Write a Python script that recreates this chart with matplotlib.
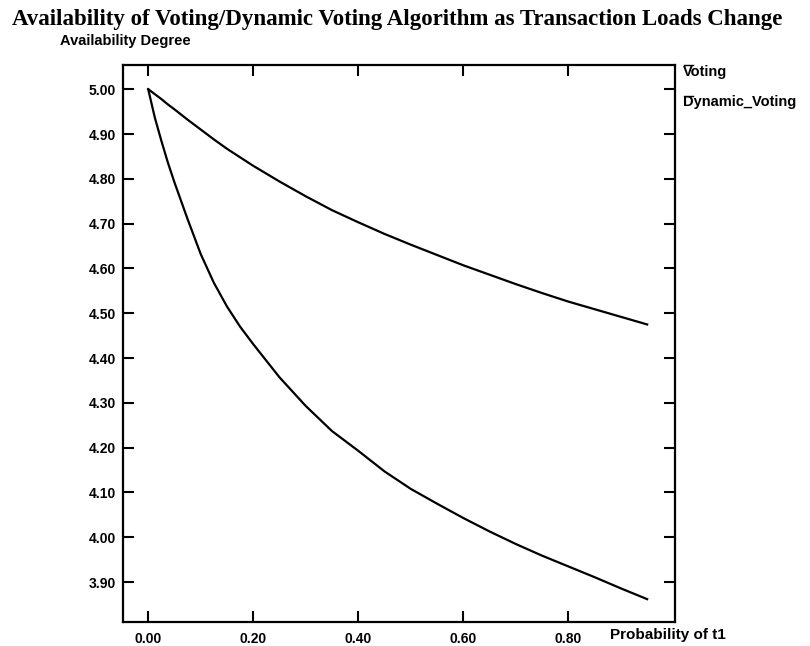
import matplotlib
matplotlib.use("Agg")
import matplotlib.pyplot as plt
from matplotlib.lines import Line2D

# ---- data ----
prob_t1 = [0.00, 0.0125, 0.025, 0.0375, 0.05, 0.075, 0.10, 0.125, 0.15, 0.175, 0.20,
           0.25, 0.30, 0.35, 0.40, 0.45, 0.50, 0.55, 0.60, 0.65, 0.70, 0.75,
           0.80, 0.85, 0.90, 0.95]
voting = [5.000, 4.989, 4.978, 4.966, 4.955, 4.932, 4.910, 4.888, 4.867, 4.848, 4.829,
          4.794, 4.761, 4.730, 4.703, 4.677, 4.653, 4.630, 4.607, 4.586, 4.565, 4.545,
          4.526, 4.509, 4.492, 4.475]
dynamic_voting = [5.000, 4.937, 4.885, 4.836, 4.792, 4.710, 4.632, 4.568, 4.515, 4.470, 4.431,
                  4.357, 4.293, 4.237, 4.193, 4.147, 4.108, 4.075, 4.043, 4.013, 3.985, 3.959,
                  3.935, 3.911, 3.886, 3.862]
x_ticks = [0.0, 0.2, 0.4, 0.6, 0.8]
y_ticks = [3.9, 4.0, 4.1, 4.2, 4.3, 4.4, 4.5, 4.6, 4.7, 4.8, 4.9, 5.0]

title = "Availability of Voting/Dynamic Voting Algorithm as Transaction Loads Change"
ylabel = "Availability Degree"
xlabel = "Probability of t1"
series_names = ["Voting", "Dynamic_Voting"]

W, H = 810, 646
fig = plt.figure(figsize=(W / 100, H / 100), dpi=100)
fig.patch.set_facecolor("white")

# axes box in pixels: left 123, right 675, top 65, bottom 622
L, R, T, B = 123, 675, 65, 622
ax = fig.add_axes([L / W, 1 - B / H, (R - L) / W, (B - T) / H])

ax.plot(prob_t1, voting, color="black", lw=1.6)
ax.plot(prob_t1, dynamic_voting, color="black", lw=1.6)

ax.set_xlim(-0.048, 1.003)
ax.set_ylim(3.811, 5.054)
ax.set_xticks(x_ticks)
ax.set_yticks(y_ticks)
ax.set_xticklabels([f"{v:.2f}" for v in x_ticks])
ax.set_yticklabels([f"{v:.2f}" for v in y_ticks])

sans = ["Liberation Sans", "DejaVu Sans"]
for lab in ax.get_xticklabels() + ax.get_yticklabels():
    lab.set_fontfamily(sans)
    lab.set_fontweight("bold")
    lab.set_fontsize(10)

ax.tick_params(axis="both", which="both", direction="in", length=8, width=1.5,
               top=True, right=True, labeltop=False, labelright=False, color="black")
ax.tick_params(axis="y", pad=5)
ax.tick_params(axis="x", pad=7)
for s in ax.spines.values():
    s.set_linewidth(1.6)
    s.set_color("black")

def px(x, y):
    return x / W, 1 - y / H

fig.text(*px(12, 19), title, fontfamily=["Liberation Serif", "DejaVu Serif"],
         fontweight="bold", fontsize=16.5, ha="left", va="center")
fig.text(*px(60, 41), ylabel, fontfamily=sans, fontweight="bold",
         fontsize=10.5, ha="left", va="center")
fig.text(*px(610, 635), xlabel, fontfamily=sans, fontweight="bold",
         fontsize=11, ha="left", va="center")
fig.text(*px(683, 72), series_names[0], fontfamily=sans, fontweight="bold",
         fontsize=10.5, ha="left", va="center")
fig.text(*px(683, 102), series_names[1], fontfamily=sans, fontweight="bold",
         fontsize=10.5, ha="left", va="center")

# small legend key strokes over the labels
for yk in (65, 96):
    x0, y0 = px(684, yk)
    x1, _ = px(693, yk)
    fig.add_artist(Line2D([x0, x1], [y0, y0], color="black", lw=1.0,
                          transform=fig.transFigure))

fig.savefig("out.png", dpi=100, facecolor="white")
